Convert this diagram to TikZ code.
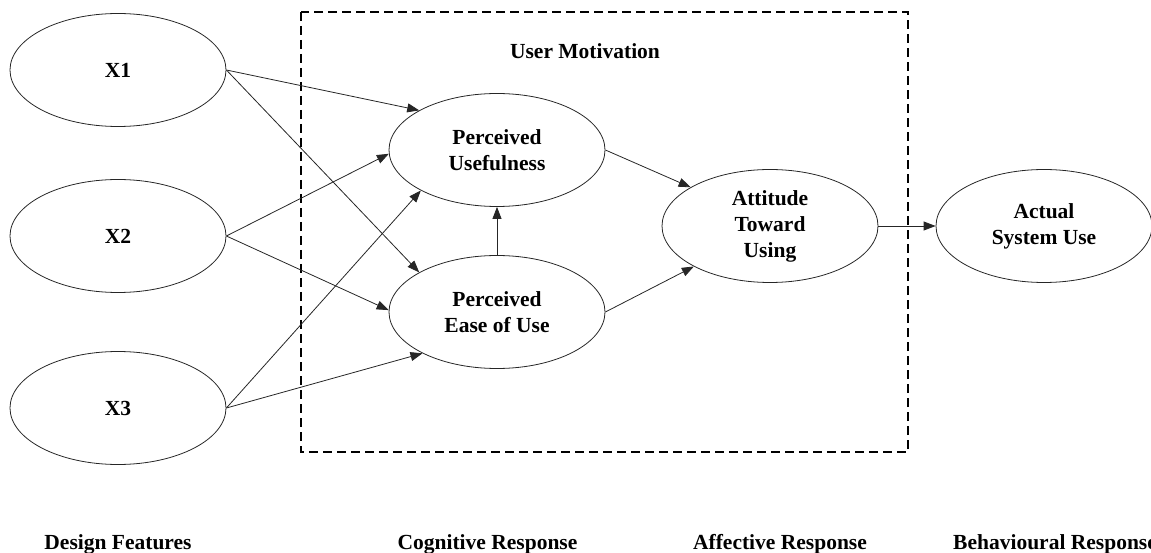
\documentclass[tikz,border=0pt]{standalone}
\usepackage{fontspec}
\setmainfont{Liberation Serif}
\usetikzlibrary{arrows.meta,shapes.geometric}

\begin{document}
\begin{tikzpicture}[x=1pt,y=1pt,
  construct/.style={draw=black!85, line width=0.8pt, ellipse,
    minimum width=216pt, minimum height=113pt, inner sep=0pt,
    align=center, font=\fontsize{21.5}{26}\selectfont\bfseries},
  link/.style={draw=black!85, line width=0.8pt,
    -{Triangle[length=12pt,width=9pt]}},
  caption/.style={font=\fontsize{21.5}{26}\selectfont\bfseries, inner sep=0pt},
  frame/.style={draw=black, line width=2pt, dash pattern=on 9pt off 5pt}
]
\useasboundingbox (0,0) rectangle (1151,-553);

% motivation frame
\draw[frame] (301,-12) rectangle (908,-452);
\node[caption, anchor=base] (mot) at (585,-59) {User Motivation};

% design features
\node[construct] (x1) at (118,-70) {X1};
\node[construct] (x2) at (118,-236) {X2};
\node[construct] (x3) at (118,-408) {X3};

% TAM constructs
\node[construct] (pu) at (497,-150) {Perceived\\Usefulness};
\node[construct] (peou) at (497,-312) {Perceived\\Ease of Use};
\node[construct] (atu) at (770,-226) {Attitude\\Toward\\Using};
\node[construct] (asu) at (1044,-226) {Actual\\System Use};

% paths
\draw[link] (x1.east) -- (pu.153);
\draw[link] (x1.east) -- (peou.153);
\draw[link] (x2.east) -- (pu.182);
\draw[link] (x2.east) -- (peou.179);
\draw[link] (x3.east) -- (pu.208.6);
\draw[link] (x3.east) -- (peou.209);
\draw[link] (peou.north) -- (pu.south);
\draw[link] (pu.east) -- (atu.154);
\draw[link] (peou.east) -- (atu.208);
\draw[link] (atu.east) -- (asu.west);

% stage captions
\node[caption, anchor=base] (df) at (118,-549) {Design Features};
\node[caption, anchor=base] (cr) at (487.5,-549) {Cognitive Response};
\node[caption, anchor=base] (ar) at (780,-549) {Affective Response};
\node[caption, anchor=base west] (br) at (953,-549) {Behavioural Response};
\end{tikzpicture}
\end{document}
